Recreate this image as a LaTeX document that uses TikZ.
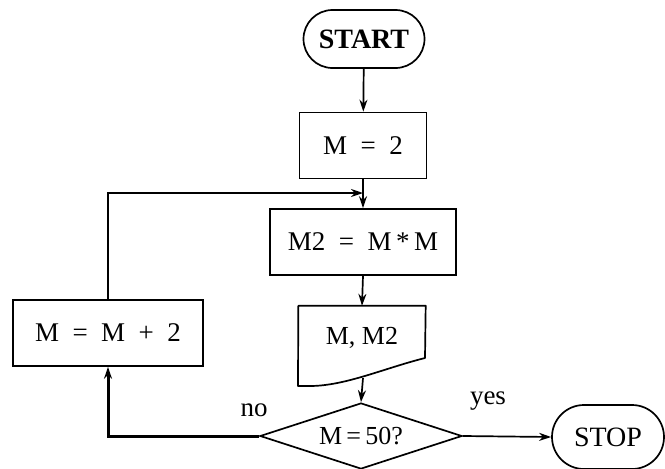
\documentclass[tikz,border=0pt]{standalone}
\usepackage{fontspec}
\setmainfont{Liberation Serif}
\usetikzlibrary{shapes.misc,shapes.geometric,arrows.meta}

\tikzset{
  flow/.style={line width=1.7pt},
  arr/.style={flow,-{Stealth[length=12pt,width=8pt]}},
  procbox/.style={draw,flow,rectangle,minimum height=66pt,inner sep=0pt,font=\fontsize{27}{31}\selectfont},
  terminal/.style={draw,flow,rounded rectangle,inner sep=0pt,font=\fontsize{28}{32}\selectfont},
  decision/.style={draw,flow,diamond,inner sep=0pt,minimum width=202pt,minimum height=66pt,
    label={[font=\fontsize{26}{30}\selectfont,inner sep=0pt]center:#1}},
  lbl/.style={font=\fontsize{27}{31}\selectfont,inner sep=0pt}
}

\begin{document}
\begin{tikzpicture}[x=1pt,y=-1pt]
\useasboundingbox (0,0) rectangle (665,469);

% terminals
\node[terminal,minimum width=121pt,minimum height=58pt,font=\fontsize{28}{32}\selectfont\bfseries] (start) at (364,39) {START};
\node[terminal,minimum width=112pt,minimum height=64pt] (stop) at (608,437) {STOP};

% processing boxes
\node[procbox,minimum width=127pt] (init) at (363,145.5) {M\enspace=\enspace2};
\node[procbox,minimum width=186pt] (sq) at (363,242) {M2\enspace=\enspace M\,*\,M};
\node[procbox,minimum width=190pt] (inc) at (108,333) {M\enspace=\enspace M\enspace+\enspace2};

% output card with a slanted, curved bottom edge
\node[rectangle,minimum width=127pt,minimum height=80pt,inner sep=0pt] (outp) at (362,346) {};
\draw[flow,line join=round] (outp.north west) -- (outp.north east) -- (425,358)
  .. controls (385,368) and (345,386) .. (310,386) -- (298,386) -- cycle;
\node[lbl,font=\fontsize{26}{30}\selectfont] (outtext) at (362,338) {M, M2};
\coordinate (outbot) at (363,378);

% decision (text set as a centred label so the diamond keeps its size)
\node[decision={M\,=\,50?}] (dec) at (361,436) {};

% joint where the loop re-enters
\coordinate (join) at (363,193);

% connectors
\draw[arr] (start) -- (init);
\draw[flow] (init.south) -- (join);
\draw[arr] (join) -- (sq.north);
\draw[arr] (sq.south) -- (outp.north);
\draw[arr] (outbot) -- (dec.north);
\draw[arr] (dec.east) -- (stop.west);
\draw[arr,line width=3pt] (dec.west) -| (inc.south);
\draw[arr] (inc.north) |- (join);

% branch labels
\node[lbl] (no) at (254,410) {no};
\node[lbl] (yes) at (488,401) {yes};
\end{tikzpicture}
\end{document}
